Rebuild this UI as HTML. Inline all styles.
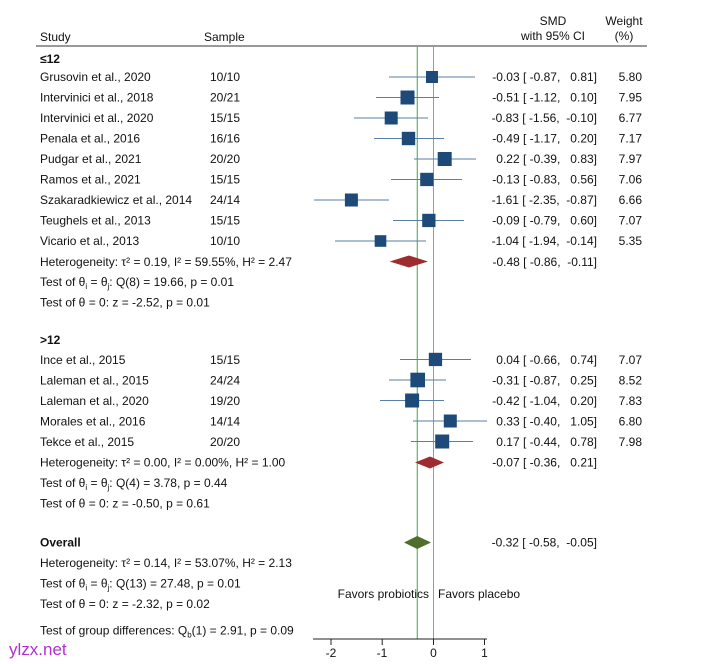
<!DOCTYPE html>
<html><head><meta charset="utf-8"><style>
body{margin:0;background:#fff}
svg{display:block}
text{font-family:"Liberation Sans",Arial,sans-serif;font-size:12px;fill:#111;white-space:pre}
.b{font-weight:bold}
.r{text-anchor:end}
.m{text-anchor:middle}
.ci{stroke:#5a7ea6;stroke-width:1}
.sq{fill:#1d4a78}
</style></head><body>
<svg width="717" height="664" viewBox="0 0 717 664" xmlns="http://www.w3.org/2000/svg" xml:space="preserve">
<text x="553" y="25" class="m">SMD</text>
<text x="553" y="40" class="m">with 95% CI</text>
<text x="624" y="25" class="m">Weight</text>
<text x="624" y="40" class="m">(%)</text>
<text x="40" y="41">Study</text>
<text x="204" y="41">Sample</text>
<line x1="36" y1="46" x2="647" y2="46" stroke="#333" stroke-width="1"/>
<line x1="433.5" y1="46" x2="433.5" y2="639" stroke="#999" stroke-width="1"/>
<line x1="417.3" y1="46" x2="417.3" y2="639" stroke="#5cb85c" stroke-width="1.2"/>

<text x="40" y="63" class="b">≤12</text>
<g>
<text x="40" y="81">Grusovin et al., 2020</text><text x="210" y="81">10/10</text>
<line class="ci" x1="389" y1="77" x2="475" y2="77"/><rect class="sq" x="426" y="71" width="12" height="12"/>
<text x="597" y="81" class="r">-0.03 [ -0.87,   0.81]</text><text x="642" y="81" class="r">5.80</text>

<text x="40" y="101.5">Intervinici et al., 2018</text><text x="210" y="101.5">20/21</text>
<line class="ci" x1="376" y1="97.5" x2="439" y2="97.5"/><rect class="sq" x="400.5" y="90.5" width="14" height="14"/>
<text x="597" y="101.5" class="r">-0.51 [ -1.12,   0.10]</text><text x="642" y="101.5" class="r">7.95</text>

<text x="40" y="122">Intervinici et al., 2020</text><text x="210" y="122">15/15</text>
<line class="ci" x1="354" y1="118" x2="428" y2="118"/><rect class="sq" x="384.7" y="111.5" width="13" height="13"/>
<text x="597" y="122" class="r">-0.83 [ -1.56,  -0.10]</text><text x="642" y="122" class="r">6.77</text>

<text x="40" y="142.5">Penala et al., 2016</text><text x="210" y="142.5">16/16</text>
<line class="ci" x1="374" y1="138.5" x2="444" y2="138.5"/><rect class="sq" x="401.8" y="131.8" width="13.4" height="13.4"/>
<text x="597" y="142.5" class="r">-0.49 [ -1.17,   0.20]</text><text x="642" y="142.5" class="r">7.17</text>

<text x="40" y="163">Pudgar et al., 2021</text><text x="210" y="163">20/20</text>
<line class="ci" x1="414" y1="159" x2="476" y2="159"/><rect class="sq" x="437.7" y="152" width="14" height="14"/>
<text x="597" y="163" class="r">0.22 [ -0.39,   0.83]</text><text x="642" y="163" class="r">7.97</text>

<text x="40" y="183.5">Ramos et al., 2021</text><text x="210" y="183.5">15/15</text>
<line class="ci" x1="391" y1="179.5" x2="462" y2="179.5"/><rect class="sq" x="420.2" y="172.8" width="13.3" height="13.3"/>
<text x="597" y="183.5" class="r">-0.13 [ -0.83,   0.56]</text><text x="642" y="183.5" class="r">7.06</text>

<text x="40" y="204">Szakaradkiewicz et al., 2014</text><text x="210" y="204">24/14</text>
<line class="ci" x1="314" y1="200" x2="389" y2="200"/><rect class="sq" x="344.9" y="193.5" width="13" height="13"/>
<text x="597" y="204" class="r">-1.61 [ -2.35,  -0.87]</text><text x="642" y="204" class="r">6.66</text>

<text x="40" y="224.5">Teughels et al., 2013</text><text x="210" y="224.5">15/15</text>
<line class="ci" x1="393" y1="220.5" x2="464" y2="220.5"/><rect class="sq" x="422.2" y="213.8" width="13.3" height="13.3"/>
<text x="597" y="224.5" class="r">-0.09 [ -0.79,   0.60]</text><text x="642" y="224.5" class="r">7.07</text>

<text x="40" y="245">Vicario et al., 2013</text><text x="210" y="245">10/10</text>
<line class="ci" x1="335" y1="241" x2="426" y2="241"/><rect class="sq" x="374.7" y="235.2" width="11.6" height="11.6"/>
<text x="597" y="245" class="r">-1.04 [ -1.94,  -0.14]</text><text x="642" y="245" class="r">5.35</text>

<text x="40" y="266">Heterogeneity: τ² = 0.19, I² = 59.55%, H² = 2.47</text>
<polygon points="389.6,261.5 409,255.5 428,261.5 409,267.5" fill="#9e2b30"/>
<text x="597" y="266" class="r">-0.48 [ -0.86,  -0.11]</text>
<text x="40" y="286">Test of θ<tspan font-size="8" dy="3">i</tspan><tspan dy="-3"> = θ</tspan><tspan font-size="8" dy="3">j</tspan><tspan dy="-3">: Q(8) = 19.66, p = 0.01</tspan></text>
<text x="40" y="306.5">Test of θ = 0: z = -2.52, p = 0.01</text>
</g>

<text x="40" y="344" class="b">&gt;12</text>
<text x="40" y="364">Ince et al., 2015</text><text x="210" y="364">15/15</text>
<line class="ci" x1="400" y1="359.5" x2="471" y2="359.5"/><rect class="sq" x="428.8" y="352.8" width="13.3" height="13.3"/>
<text x="597" y="364" class="r">0.04 [ -0.66,   0.74]</text><text x="642" y="364" class="r">7.07</text>

<text x="40" y="384.5">Laleman et al., 2015</text><text x="210" y="384.5">24/24</text>
<line class="ci" x1="389" y1="380" x2="446" y2="380"/><rect class="sq" x="410.4" y="372.7" width="14.6" height="14.6"/>
<text x="597" y="384.5" class="r">-0.31 [ -0.87,   0.25]</text><text x="642" y="384.5" class="r">8.52</text>

<text x="40" y="405">Laleman et al., 2020</text><text x="210" y="405">19/20</text>
<line class="ci" x1="380" y1="400.5" x2="444" y2="400.5"/><rect class="sq" x="405.1" y="393.5" width="14" height="14"/>
<text x="597" y="405" class="r">-0.42 [ -1.04,   0.20]</text><text x="642" y="405" class="r">7.83</text>

<text x="40" y="425.5">Morales et al., 2016</text><text x="210" y="425.5">14/14</text>
<line class="ci" x1="413" y1="421" x2="487" y2="421"/><rect class="sq" x="443.8" y="414.5" width="13" height="13"/>
<text x="597" y="425.5" class="r">0.33 [ -0.40,   1.05]</text><text x="642" y="425.5" class="r">6.80</text>

<text x="40" y="446">Tekce et al., 2015</text><text x="210" y="446">20/20</text>
<line class="ci" x1="411" y1="441.5" x2="473" y2="441.5"/><rect class="sq" x="435.2" y="434.5" width="14" height="14"/>
<text x="597" y="446" class="r">0.17 [ -0.44,   0.78]</text><text x="642" y="446" class="r">7.98</text>

<text x="40" y="466.5">Heterogeneity: τ² = 0.00, I² = 0.00%, H² = 1.00</text>
<polygon points="415,462.5 430,456.5 444,462.5 430,468.5" fill="#9e2b30"/>
<text x="597" y="466.5" class="r">-0.07 [ -0.36,   0.21]</text>
<text x="40" y="487">Test of θ<tspan font-size="8" dy="3">i</tspan><tspan dy="-3"> = θ</tspan><tspan font-size="8" dy="3">j</tspan><tspan dy="-3">: Q(4) = 3.78, p = 0.44</tspan></text>
<text x="40" y="507.5">Test of θ = 0: z = -0.50, p = 0.61</text>

<text x="40" y="546.5" class="b">Overall</text>
<polygon points="404,542.5 417.2,536 431,542.5 417.2,549" fill="#4e6e2a"/>
<text x="597" y="546.5" class="r">-0.32 [ -0.58,  -0.05]</text>
<text x="40" y="567">Heterogeneity: τ² = 0.14, I² = 53.07%, H² = 2.13</text>
<text x="40" y="587.5">Test of θ<tspan font-size="8" dy="3">i</tspan><tspan dy="-3"> = θ</tspan><tspan font-size="8" dy="3">j</tspan><tspan dy="-3">: Q(13) = 27.48, p = 0.01</tspan></text>
<text x="40" y="608">Test of θ = 0: z = -2.32, p = 0.02</text>
<text x="40" y="634.5">Test of group differences: Q<tspan font-size="8" dy="3">b</tspan><tspan dy="-3">(1) = 2.91, p = 0.09</tspan></text>

<text x="429" y="598" class="r">Favors probiotics</text>
<text x="438" y="598">Favors placebo</text>

<line x1="313" y1="639" x2="487" y2="639" stroke="#222" stroke-width="1"/>
<g stroke="#222" stroke-width="1">
<line x1="331" y1="639" x2="331" y2="645"/><line x1="382.2" y1="639" x2="382.2" y2="645"/>
<line x1="433.5" y1="639" x2="433.5" y2="645"/><line x1="484.5" y1="639" x2="484.5" y2="645"/>
</g>
<text x="331" y="657" class="m">-2</text><text x="382" y="657" class="m">-1</text>
<text x="433.5" y="657" class="m">0</text><text x="484.5" y="657" class="m">1</text>

<text x="9" y="655" style="font-size:17px;fill:#b030d0">ylzx.net</text>
</svg>
</body></html>
